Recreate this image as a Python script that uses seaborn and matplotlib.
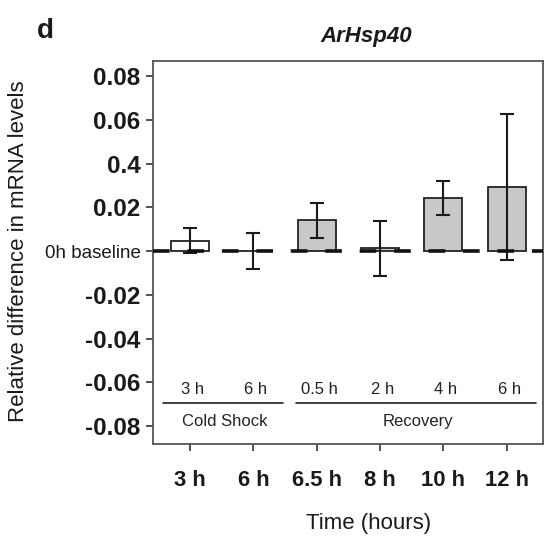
import matplotlib
matplotlib.use("Agg")
import matplotlib.pyplot as plt
import seaborn as sns
import pandas as pd

# ---- data ----
categories = ["3 h", "6 h", "6.5 h", "8 h", "10 h", "12 h"]
means = [0.0047, 0.0, 0.0142, 0.0012, 0.0242, 0.0293]
errors = [0.0058, 0.0082, 0.0080, 0.0125, 0.0078, 0.0335]
phase = ["Cold Shock", "Cold Shock", "Recovery", "Recovery", "Recovery", "Recovery"]
phase_hours = ["3 h", "6 h", "0.5 h", "2 h", "4 h", "6 h"]
ytick_vals = [0.08, 0.06, 0.04, 0.02, 0.0, -0.02, -0.04, -0.06, -0.08]
ytick_labels = ["0.08", "0.06", "0.4", "0.02", "0h baseline", "-0.02", "-0.04", "-0.06", "-0.08"]
phase_colors = {"Cold Shock": "white", "Recovery": "#c8c8c8"}

sns.set_style("ticks")
plt.rcParams["font.family"] = ["Liberation Sans", "DejaVu Sans"]
plt.rcParams["lines.scale_dashes"] = False
plt.rcParams["text.color"] = "#1a1a1a"
plt.rcParams["xtick.labelcolor"] = "#1a1a1a"
plt.rcParams["ytick.labelcolor"] = "#1a1a1a"

df = pd.DataFrame({"time": categories, "value": means, "phase": phase})

fig = plt.figure(figsize=(5.44, 5.39), dpi=100)
ax = fig.add_axes([0.2813, 0.1763, 0.7167, 0.7105])

sns.barplot(data=df, x="time", y="value", hue="phase", palette=phase_colors,
            dodge=False, width=0.6, edgecolor="#222222", linewidth=1.3,
            legend=False, ax=ax, errorbar=None)

xs = list(range(len(categories)))
ax.errorbar(xs, means, yerr=errors, fmt="none", ecolor="#1a1a1a",
            elinewidth=1.5, capsize=4.7, capthick=1.5, zorder=4)

ax.axhline(0, color="#111111", lw=2.6, ls=(0, (12, 12.8)), zorder=5)

ax.set_xlim(-0.584, 5.57)
ax.set_ylim(-0.0882, 0.0869)
ax.set_yticks(ytick_vals)
ax.set_yticklabels(ytick_labels)
for lbl, txt in zip(ax.get_yticklabels(), ytick_labels):
    if txt == "0h baseline":
        lbl.set_fontweight("normal")
        lbl.set_fontsize(13.5)
    else:
        lbl.set_fontweight("bold")
        lbl.set_fontsize(17.5)
ax.set_xticks(xs)
ax.set_xticklabels(categories, fontweight="bold", fontsize=15.8)
ax.tick_params(axis="x", length=5, width=1.3, color="#444444", pad=14)
ax.tick_params(axis="y", length=5, width=1.3, color="#444444", pad=4)

for s in ["left", "right", "top", "bottom"]:
    ax.spines[s].set_visible(True)
    ax.spines[s].set_color("#555555")
    ax.spines[s].set_linewidth(1.3)

ax.set_xlabel("")
ax.set_ylabel("")
fig.text(369 / 544, 1 - 524 / 539, "Time (hours)", ha="center", va="center", fontsize=16)
fig.text(19 / 544, 1 - 251.5 / 539, "Relative difference in mRNA levels",
         rotation=90, ha="center", va="center", fontsize=16)

# phase annotations inside the axes
for x, h in zip(xs, phase_hours):
    ax.text(x + 0.04, -0.0631, h, ha="center", va="center", fontsize=12, color="#222222")
ax.plot([-0.43, 1.47], [-0.0693, -0.0693], color="#222222", lw=1.2)
ax.plot([1.67, 5.46], [-0.0693, -0.0693], color="#222222", lw=1.2)
ax.text(0.55, -0.0777, "Cold Shock", ha="center", va="center", fontsize=12, color="#222222")
ax.text(3.6, -0.0777, "Recovery", ha="center", va="center", fontsize=12, color="#222222")

fig.text(366 / 544, 1 - 36 / 539, "ArHsp40", ha="center", va="center",
         fontsize=16, fontweight="bold", fontstyle="italic")
fig.text(45 / 544, 1 - 31 / 539, "d", ha="center", va="center",
         fontsize=20, fontweight="bold")

fig.savefig("out.png", dpi=100)
